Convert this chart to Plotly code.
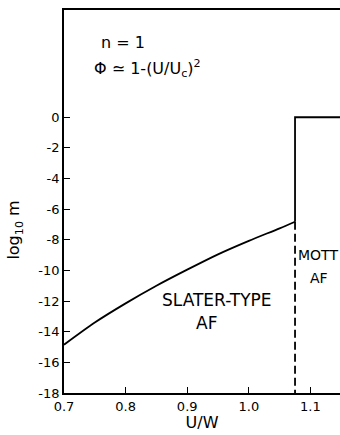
import plotly.graph_objects as go

# Slater-type antiferromagnet branch: log10 m versus U/W
slater_u = [0.70, 0.75, 0.80, 0.85, 0.90, 0.95, 1.00, 1.05, 1.075]
slater_log10m = [-14.85, -13.4, -12.15, -11.0, -9.95, -8.95, -8.07, -7.25, -6.82]

# Mott antiferromagnet branch: jump to log10 m = 0 at U_c
mott_u = [1.075, 1.075, 1.15]
mott_log10m = [-6.82, 0.0, 0.0]

# Boundary between the two regimes
boundary_u = [1.075, 1.075]
boundary_log10m = [-6.82, -18.0]

x_ticks = [0.7, 0.8, 0.9, 1.0, 1.1]
x_tick_labels = ["0.7", "0.8", "0.9", "1.0", "1.1"]
y_ticks = [0, -2, -4, -6, -8, -10, -12, -14, -16, -18]
y_tick_labels = ["0", "-2", "-4", "-6", "-8", "-10", "-12", "-14", "-16", "-18"]

FONT = "DejaVu Sans"
line = dict(color="black", width=1.8)

fig = go.Figure()
fig.add_trace(go.Scatter(x=slater_u, y=slater_log10m, mode="lines",
                         line=dict(line, shape="spline", smoothing=0.8)))
fig.add_trace(go.Scatter(x=mott_u, y=mott_log10m, mode="lines", line=line))
fig.add_trace(go.Scatter(x=boundary_u, y=boundary_log10m, mode="lines",
                         line=dict(color="black", width=1.8, dash="8px,4px")))

annotations = [
    dict(x=0.757, y=4.85, text="n = 1", xanchor="left", font=dict(size=16)),
    dict(x=0.746, y=3.2, text="Φ ≃ 1-(U/U<sub>c</sub>)<sup>2</sup>",
         xanchor="left", font=dict(size=16)),
    dict(x=0.948, y=-11.95, text="SLATER-TYPE", xanchor="center",
         font=dict(size=17)),
    dict(x=0.931, y=-13.4, text="AF", xanchor="center", font=dict(size=17)),
    dict(x=1.1125, y=-8.98, text="MOTT", xanchor="center", font=dict(size=14)),
    dict(x=1.1135, y=-10.48, text="AF", xanchor="center", font=dict(size=14)),
]
for a in annotations:
    a.update(xref="x", yref="y", showarrow=False, yanchor="middle")
    a["font"] = dict(family=FONT, color="black", **a["font"])

# y-axis title placed as a rotated label beside the axis
annotations.append(dict(
    xref="paper", yref="y", x=0, y=-7.4, xshift=-49,
    text="log<sub>10</sub> m", textangle=-90, showarrow=False,
    xanchor="center", yanchor="middle",
    font=dict(family=FONT, color="black", size=16),
))

fig.update_layout(
    width=340, height=435,
    margin=dict(l=64, r=0, t=10, b=42),
    paper_bgcolor="white", plot_bgcolor="white",
    showlegend=False,
    font=dict(family=FONT, color="black", size=12),
    annotations=annotations,
    xaxis=dict(
        range=[0.7, 1.148], tickvals=x_ticks, ticktext=x_tick_labels,
        ticks="inside", ticklen=6, tickwidth=1.3, tickcolor="black",
        showline=True, linecolor="black", linewidth=1.8, mirror=True,
        showgrid=False, zeroline=False,
        tickfont=dict(family=FONT, size=13),
        title=dict(text="U/W", font=dict(family=FONT, size=16), standoff=3),
    ),
    yaxis=dict(
        range=[-18, 7], tickvals=y_ticks, ticktext=y_tick_labels,
        ticks="inside", ticklen=6, tickwidth=1.3, tickcolor="black",
        showline=True, linecolor="black", linewidth=1.8,
        showgrid=False, zeroline=False,
        tickfont=dict(family=FONT, size=13),
    ),
)

fig.write_html("out.html")
